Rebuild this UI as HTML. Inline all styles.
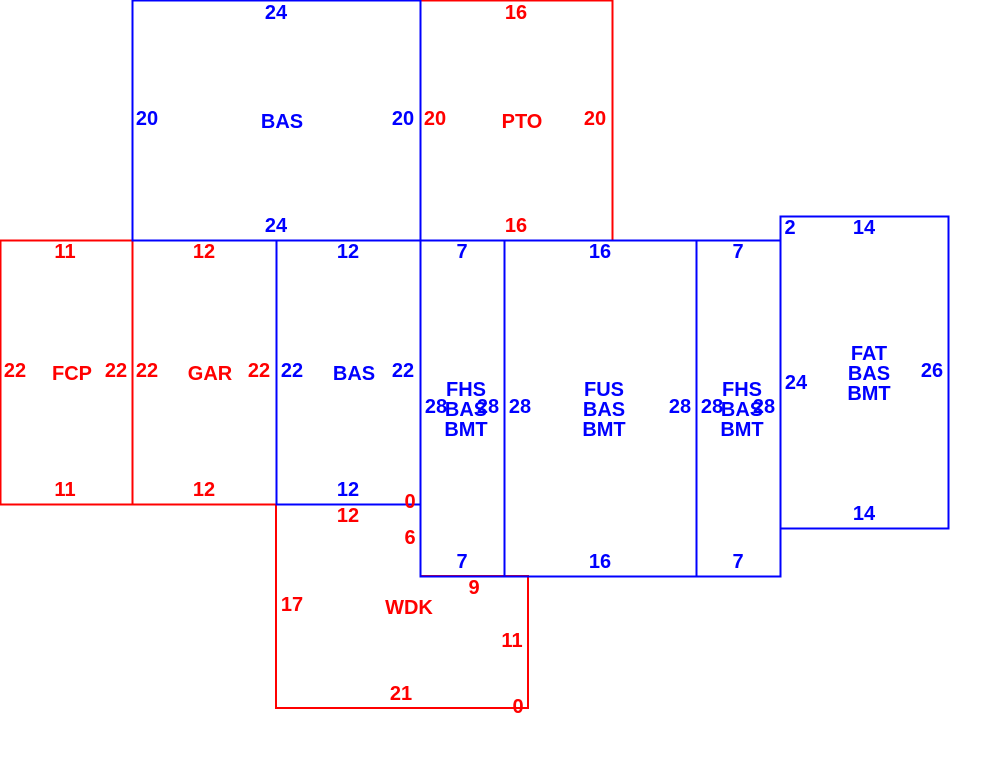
<!DOCTYPE html>
<html><head><style>body{margin:0;background:#fff}svg{display:block}</style></head>
<body>
<svg width="1000" height="764" xmlns="http://www.w3.org/2000/svg" font-family="Liberation Sans, Arial, sans-serif" font-weight="bold" font-size="20" text-anchor="middle" dominant-baseline="central">
<g fill="none" stroke-width="1.6" shape-rendering="crispEdges">
<polyline stroke="#f00" points="276,504 276,708 528,708 528,576 420,576" />
<rect stroke="#f00" x="420.5" y="0.5" width="192" height="240"/>
<rect stroke="#f00" x="0.5" y="240.5" width="132" height="264"/>
<rect stroke="#f00" x="132.5" y="240.5" width="144" height="264"/>
<rect stroke="#00f" x="132.5" y="0.5" width="288" height="240"/>
<rect stroke="#00f" x="276.5" y="240.5" width="144" height="264"/>
<rect stroke="#00f" x="420.5" y="240.5" width="84" height="336"/>
<rect stroke="#00f" x="504.5" y="240.5" width="192" height="336"/>
<rect stroke="#00f" x="696.5" y="240.5" width="84" height="336"/>
<rect stroke="#00f" x="780.5" y="216.5" width="168" height="312"/>
</g>
<g fill="#00f">
<text x="276" y="13">24</text><text x="147" y="119">20</text><text x="282" y="122">BAS</text><text x="403" y="119">20</text><text x="276" y="226">24</text>
<text x="348" y="252">12</text><text x="292" y="371">22</text><text x="354" y="374">BAS</text><text x="403" y="371">22</text><text x="348" y="490">12</text>
<text x="462" y="252">7</text><text x="466" y="390">FHS</text><text x="466" y="410">BAS</text><text x="466" y="430">BMT</text><text x="436" y="407">28</text><text x="488" y="407">28</text><text x="462" y="562">7</text>
<text x="600" y="252">16</text><text x="604" y="390">FUS</text><text x="604" y="410">BAS</text><text x="604" y="430">BMT</text><text x="520" y="407">28</text><text x="680" y="407">28</text><text x="600" y="562">16</text>
<text x="738" y="252">7</text><text x="742" y="390">FHS</text><text x="742" y="410">BAS</text><text x="742" y="430">BMT</text><text x="712" y="407">28</text><text x="764" y="407">28</text><text x="738" y="562">7</text>
<text x="790" y="228">2</text><text x="864" y="228">14</text><text x="796" y="383">24</text><text x="869" y="354">FAT</text><text x="869" y="374">BAS</text><text x="869" y="394">BMT</text><text x="932" y="371">26</text><text x="864" y="514">14</text>
</g>
<g fill="#f00">
<text x="516" y="13">16</text><text x="435" y="119">20</text><text x="522" y="122">PTO</text><text x="595" y="119">20</text><text x="516" y="226">16</text>
<text x="65" y="252">11</text><text x="15" y="371">22</text><text x="72" y="374">FCP</text><text x="116" y="371">22</text><text x="65" y="490">11</text>
<text x="204" y="252">12</text><text x="147" y="371">22</text><text x="210" y="374">GAR</text><text x="259" y="371">22</text><text x="204" y="490">12</text>
<text x="348" y="516">12</text><text x="410" y="502">0</text><text x="410" y="538">6</text><text x="474" y="588">9</text>
<text x="292" y="605">17</text><text x="409" y="608">WDK</text><text x="512" y="641">11</text><text x="401" y="694">21</text><text x="518" y="707">0</text>
</g>
</svg>
</body></html>
